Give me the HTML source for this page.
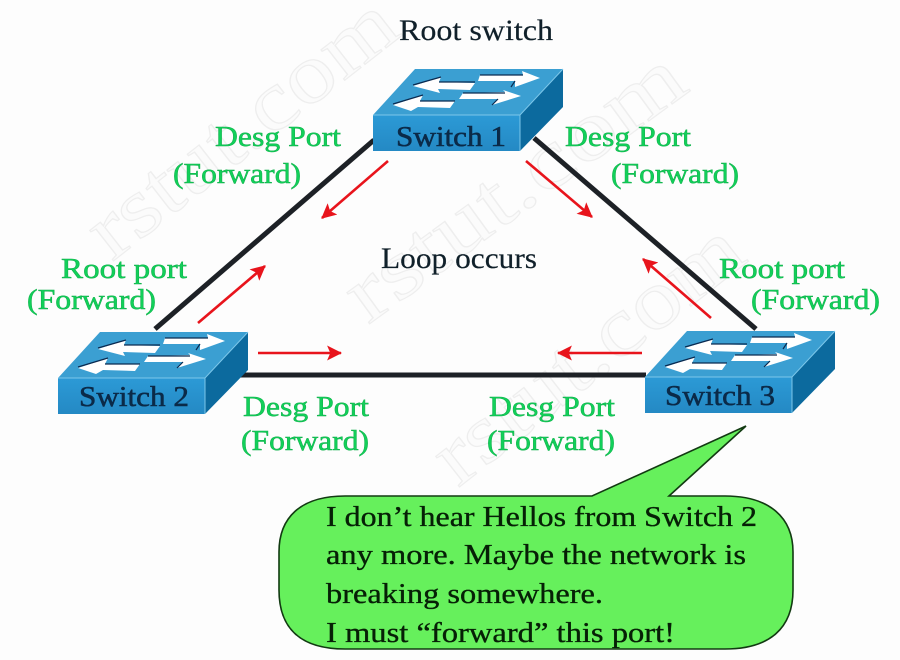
<!DOCTYPE html>
<html>
<head>
<meta charset="utf-8">
<style>
html,body{margin:0;padding:0;background:#fff;width:900px;height:660px;overflow:hidden}
svg{display:block}
text{font-family:"Liberation Serif",serif}
.g{font-size:29px;fill:#12d05a;stroke:#0fb04a;stroke-width:.5px}
.k{font-size:30px;fill:#10202a;stroke:#10202a;stroke-width:.2px}
.s{font-size:29px;fill:#0b2a48;stroke:#0b2a48;stroke-width:.55px}
.b{font-size:29px;fill:#062006;stroke:#062006;stroke-width:.35px}
.w{font-size:84px;fill:#fbfbfb;stroke:#eeeeee;stroke-width:1.2px}
</style>
</head>
<body>
<svg width="900" height="660" viewBox="0 0 900 660" xmlns="http://www.w3.org/2000/svg">
<defs>
<linearGradient id="front" x1="0" y1="0" x2="0" y2="1">
<stop offset="0" stop-color="#2c9ad6"/>
<stop offset="1" stop-color="#2489c4"/>
</linearGradient>
<g id="sw">
<polygon points="147,46 190,0 190,38 147,82" fill="#0c6a9e"/>
<rect x="0" y="46" width="147" height="36" fill="url(#front)"/>
<polygon points="0,46 42,0 190,0 147,46" fill="#3b9fd2"/>
<path d="M0,46 H147 L190,0 M147,46 V82" fill="none" stroke="#7cc7ea" stroke-width="1"/>
<g fill="#fff" stroke="none">
<polygon points="40,17 68,8 66,13 102,14 97,21 65,20 67,24"/>
<polygon points="20,36 50,26 47,32 82,32 77,39 45,38 38,42"/>
<polygon points="107,6 150,6 149,2 167,9 142,18 142,12 105,12"/>
<polygon points="90,24 132,23 130,21 148,27 119,36 125,30 86,30"/>
</g>
<g fill="none" stroke="#0a2a50" stroke-width="1.2">
<path d="M40,16 L68,8 M66,13 H102"/>
<path d="M20,35 L50,26 M47,32 H82"/>
<path d="M107,6 H150 M142,12 L138,18"/>
<path d="M90,24 H132 M125,30 L119,36"/>
</g>
</g>
<marker id="a2" viewBox="0 0 14 14" markerWidth="15" markerHeight="15" refX="13" refY="7" orient="auto" markerUnits="userSpaceOnUse">
<path d="M0,0 L14,7 L0,14 L3,7 Z" fill="#e8141c"/>
</marker>
</defs>

<rect width="900" height="660" fill="#fdfdfd"/>

<g>
<text class="w" transform="translate(112,262) rotate(-38)" textLength="370" lengthAdjust="spacingAndGlyphs">rstut.com</text>
<text class="w" transform="translate(368,325) rotate(-36)" textLength="400" lengthAdjust="spacingAndGlyphs">rstut.com</text>
<text class="w" transform="translate(458,488) rotate(-38)" textLength="370" lengthAdjust="spacingAndGlyphs">rstut.com</text>
</g>

<!-- links -->
<g stroke="#1d2126" stroke-width="5" stroke-linecap="butt">
<line x1="155" y1="329" x2="374" y2="140"/>
<line x1="534" y1="138" x2="756" y2="329"/>
<line x1="204" y1="375" x2="646" y2="375"/>
</g>

<!-- red arrows -->
<g stroke="#e8141c" stroke-width="2.6" fill="none">
<line x1="388" y1="161" x2="322" y2="218" marker-end="url(#a2)"/>
<line x1="526" y1="161" x2="592" y2="217" marker-end="url(#a2)"/>
<line x1="198" y1="323" x2="265" y2="266" marker-end="url(#a2)"/>
<line x1="711" y1="318" x2="643" y2="259" marker-end="url(#a2)"/>
<line x1="258" y1="353" x2="341" y2="353" marker-end="url(#a2)"/>
<line x1="642" y1="353" x2="558" y2="353" marker-end="url(#a2)"/>
</g>

<!-- switches -->
<use href="#sw" x="373" y="69"/>
<use href="#sw" x="58" y="332"/>
<use href="#sw" x="645" y="331"/>
<text class="s" x="396" y="146" textLength="110" lengthAdjust="spacingAndGlyphs">Switch 1</text>
<text class="s" x="79" y="406" textLength="110" lengthAdjust="spacingAndGlyphs">Switch 2</text>
<text class="s" x="665" y="405" textLength="110" lengthAdjust="spacingAndGlyphs">Switch 3</text>

<!-- black labels -->
<text class="k" x="399" y="40" textLength="154" lengthAdjust="spacingAndGlyphs">Root switch</text>
<text class="k" x="381" y="268" textLength="156" lengthAdjust="spacingAndGlyphs">Loop occurs</text>

<!-- green labels -->
<text class="g" x="215" y="146" textLength="126" lengthAdjust="spacingAndGlyphs">Desg Port</text>
<text class="g" x="173" y="183" textLength="128" lengthAdjust="spacingAndGlyphs">(Forward)</text>
<text class="g" x="565" y="146" textLength="126" lengthAdjust="spacingAndGlyphs">Desg Port</text>
<text class="g" x="611" y="183" textLength="128" lengthAdjust="spacingAndGlyphs">(Forward)</text>
<text class="g" x="61" y="278" textLength="126" lengthAdjust="spacingAndGlyphs">Root port</text>
<text class="g" x="27" y="309" textLength="129" lengthAdjust="spacingAndGlyphs">(Forward)</text>
<text class="g" x="719" y="278" textLength="126" lengthAdjust="spacingAndGlyphs">Root port</text>
<text class="g" x="751" y="309" textLength="129" lengthAdjust="spacingAndGlyphs">(Forward)</text>
<text class="g" x="243" y="416" textLength="126" lengthAdjust="spacingAndGlyphs">Desg Port</text>
<text class="g" x="241" y="450" textLength="128" lengthAdjust="spacingAndGlyphs">(Forward)</text>
<text class="g" x="489" y="416" textLength="126" lengthAdjust="spacingAndGlyphs">Desg Port</text>
<text class="g" x="487" y="450" textLength="128" lengthAdjust="spacingAndGlyphs">(Forward)</text>

<!-- callout -->
<path d="M345,496 H592 L746,426 L669,496 H725 C770,496 793,518 793,552 V590 C793,628 770,649 725,649 H345 C300,649 279,628 279,590 V552 C279,518 300,496 345,496 Z" fill="#66f05c" stroke="#123a12" stroke-width="1.6"/>
<text class="b" x="326" y="526" textLength="431" lengthAdjust="spacingAndGlyphs">I don’t hear Hellos from Switch 2</text>
<text class="b" x="326" y="564" textLength="420" lengthAdjust="spacingAndGlyphs">any more. Maybe the network is</text>
<text class="b" x="326" y="603" textLength="277" lengthAdjust="spacingAndGlyphs">breaking somewhere.</text>
<text class="b" x="326" y="642" textLength="349" lengthAdjust="spacingAndGlyphs">I must “forward” this port!</text>
</svg>
</body>
</html>
